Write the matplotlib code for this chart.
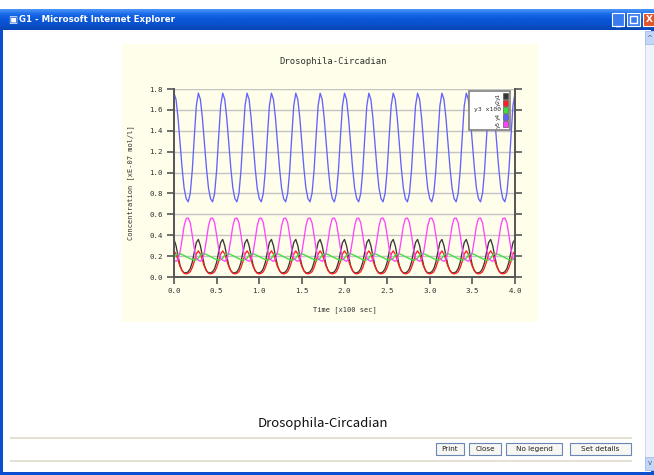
import numpy as np
import matplotlib
matplotlib.use("Agg")
import matplotlib.pyplot as plt
from matplotlib.patches import Rectangle
from matplotlib.colors import LinearSegmentedColormap

# one oscillation cycle of each species (12 samples / cycle)
n_cycles = 14
t_end = 4.0
y1_cycle = [0.36, 0.30, 0.20, 0.11, 0.06, 0.04, 0.04, 0.05, 0.08, 0.14, 0.24, 0.33]
y2_cycle = [0.25, 0.22, 0.16, 0.10, 0.06, 0.035, 0.03, 0.035, 0.05, 0.09, 0.15, 0.22]
y3_cycle = [0.18, 0.21, 0.222, 0.222, 0.215, 0.205, 0.195, 0.185, 0.175, 0.167, 0.162, 0.165]
y4_cycle = [1.76, 1.70, 1.52, 1.28, 1.04, 0.85, 0.75, 0.72, 0.80, 1.02, 1.34, 1.64]
y5_cycle = [0.16, 0.15, 0.17, 0.24, 0.36, 0.49, 0.56, 0.565, 0.52, 0.40, 0.27, 0.18]

series_names = ["y1", "y2", "y3 x100", "y4", "y5"]
series_colors = ["#383838", "#ff2020", "#3ce03c", "#6262ff", "#ff44ff"]

x_ticks = [0.0, 0.5, 1.0, 1.5, 2.0, 2.5, 3.0, 3.5, 4.0]
y_ticks = [0.0, 0.2, 0.4, 0.6, 0.8, 1.0, 1.2, 1.4, 1.6, 1.8]

chart_title = "Drosophila-Circadian"
window_title = "G1 - Microsoft Internet Explorer"
buttons = ["Print", "Close", "No legend", "Set details"]

W, H = 654, 475
CREAM = "#fffeea"
MONO = "DejaVu Sans Mono"


def fx(x):
    return x / W


def fy(y):
    return 1 - y / H


def rect(fig, x0, y0, x1, y1, zorder=-5, **kw):
    fig.patches.append(Rectangle((fx(x0), fy(y1)), (x1 - x0) / W, (y1 - y0) / H,
                                 transform=fig.transFigure, zorder=zorder, **kw))


def build(cycle):
    vals = np.append(np.tile(cycle, n_cycles), cycle[0])
    t = np.linspace(0, t_end, len(vals))
    return t, vals


fig = plt.figure(figsize=(W / 100, H / 100), dpi=100)
fig.patch.set_facecolor("white")

# window frame
rect(fig, 0, 9, W, H, facecolor="#0a4fd0", edgecolor="none", zorder=-10)
rect(fig, 3, 30, 651, 472, facecolor="white", edgecolor="none", zorder=-9)

# title bar gradient
tb = fig.add_axes([fx(0), fy(30), 1, 21 / H])
grad = np.linspace(0, 1, 40).reshape(-1, 1)
cmap = LinearSegmentedColormap.from_list("xp", ["#4a94f8", "#1868e8", "#0a56d8", "#0a50cc", "#0846b4"])
tb.imshow(grad, aspect="auto", cmap=cmap, extent=[0, 1, 0, 1])
tb.axis("off")
fig.text(fx(8), fy(20), "\u25a3", color="white", fontsize=7, va="center")
fig.text(fx(19), fy(20), window_title, color="white", fontsize=6.2,
         fontweight="bold", va="center")
rect(fig, 612, 13, 624, 26, zorder=3, facecolor="#3a7cf0", edgecolor="white", lw=0.8)
rect(fig, 627, 13, 640, 26, zorder=3, facecolor="#3a7cf0", edgecolor="white", lw=0.8)
rect(fig, 643, 13, 656, 26, zorder=3, facecolor="#e0552a", edgecolor="white", lw=0.8)
fig.text(fx(618), fy(22), "_", color="white", fontsize=7, ha="center", va="center",
         fontweight="bold", zorder=4)
rect(fig, 630, 16, 637, 23, zorder=4, facecolor="none", edgecolor="white", lw=1.0)
fig.text(fx(649), fy(20), "X", color="white", fontsize=6.5, ha="center", va="center",
         fontweight="bold", zorder=4)

# scrollbar
rect(fig, 645, 31, 654, 470, facecolor="#eef3fc", edgecolor="#c8d4ec", lw=0.6)
rect(fig, 645, 31, 654, 44, facecolor="#c4d6f8", edgecolor="#a8bce8", lw=0.6)
rect(fig, 645, 457, 654, 470, facecolor="#c4d6f8", edgecolor="#a8bce8", lw=0.6)
fig.text(fx(649.5), fy(38), "^", fontsize=5, ha="center", va="center", color="#4d6185")
fig.text(fx(649.5), fy(463), "v", fontsize=5, ha="center", va="center", color="#4d6185")

# chart image background
rect(fig, 122, 44, 538, 322, facecolor=CREAM, edgecolor="none")
fig.text(fx(333), fy(61), chart_title, fontsize=6.4, family=MONO, ha="center",
         va="center", color="#303030")

ax = fig.add_axes([fx(174), fy(277), (515 - 174) / W, (277 - 89) / H])
ax.set_facecolor(CREAM)
for cyc, col in zip([y1_cycle, y2_cycle, y3_cycle, y4_cycle, y5_cycle], series_colors):
    t, v = build(cyc)
    ax.plot(t, v, color=col, lw=0.95, clip_on=False)

ax.set_xlim(0, t_end)
ax.set_ylim(0, 1.8)
ax.set_xticks(x_ticks)
ax.set_xticklabels([f"{v:.1f}" for v in x_ticks])
ax.set_yticks(y_ticks)
ax.set_yticklabels([f"{v:.1f}" for v in y_ticks])
ax.tick_params(axis="both", direction="out", length=5, width=1.2, color="#555555",
               labelsize=5.4, labelcolor="#303030", pad=3)
ax.tick_params(axis="y", right=True)
for lab in ax.get_xticklabels() + ax.get_yticklabels():
    lab.set_family(MONO)
ax.yaxis.grid(True, color="#c4c4c4", lw=1.0)
ax.set_axisbelow(True)
ax.spines["top"].set_visible(False)
for s in ["left", "bottom", "right"]:
    ax.spines[s].set_color("#555555")
    ax.spines[s].set_linewidth(1.4)
ax.set_xlabel("Time [x100 sec]", fontsize=5.0, family=MONO, color="#303030", labelpad=9)
ax.set_ylabel("Concentration [xE-07 mol/l]", fontsize=5.0, family=MONO,
              color="#303030", labelpad=11)

# legend box
rect(fig, 469, 91, 510, 130, zorder=5, facecolor="white", edgecolor="#808080", lw=1.2)
for i, (name, col) in enumerate(zip(series_names, series_colors)):
    top = 93 + i * 7
    rect(fig, 503, top, 508, top + 6, zorder=6, facecolor=col, edgecolor="#404040", lw=0.4)
    if name.startswith("y3"):
        fig.text(fx(501), fy(top + 3), name, fontsize=4.6, family=MONO, ha="right",
                 va="center", color="#303030", zorder=7)
    else:
        fig.text(fx(501), fy(top + 3), name, fontsize=4.2, family=MONO, ha="right",
                 va="center", rotation=90, color="#303030", zorder=7)

# page footer
fig.text(fx(323), fy(424), chart_title, fontsize=9.5, ha="center", va="center",
         family=["Noto Sans CJK JP", "DejaVu Sans"], color="#101010")
rect(fig, 10, 436.5, 632, 438.5, facecolor="#e4e0d4", edgecolor="none")
rect(fig, 10, 460, 632, 462, facecolor="#e4e0d4", edgecolor="none")
btn_pos = [(436, 464), (469, 501), (506, 562), (570, 631)]
for (x0, x1), label in zip(btn_pos, buttons):
    rect(fig, x0, 443, x1, 455, facecolor="#f6f6f2", edgecolor="#6a86b4", lw=0.8)
    fig.text(fx((x0 + x1) / 2), fy(449), label, fontsize=5.2, ha="center", va="center",
             color="#202020")

fig.savefig("out.png", dpi=100)
